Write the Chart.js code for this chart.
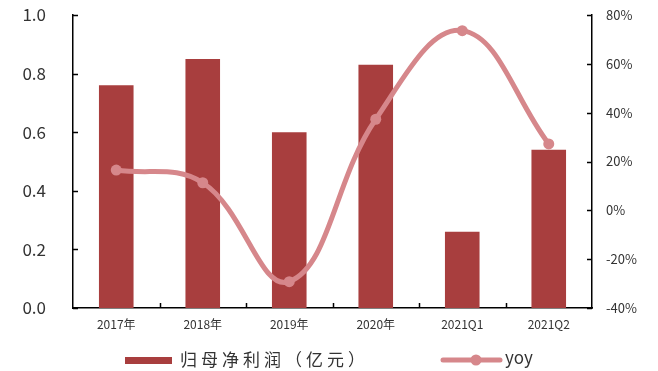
<!DOCTYPE html>
<html>
<head>
<meta charset="utf-8">
<script src="https://cdn.jsdelivr.net/npm/chart.js@4/dist/chart.umd.min.js"></script>
<style>
  html, body { margin: 0; padding: 0; background: #fff; }
  #wrap { width: 658px; height: 371px; position: relative; }
</style>
</head>
<body>
<div id="wrap"><canvas id="c"></canvas></div>
<script>
// Categories and series
const categories = ['2017年', '2018年', '2019年', '2020年', '2021Q1', '2021Q2'];
const netProfit = [0.76, 0.85, 0.60, 0.83, 0.26, 0.54];   // 归母净利润（亿元）
const yoyPct = [16.5, 11.3, -29.2, 37.3, 73.6, 27.2];      // yoy, %

const BAR_COLOR = '#a83e3e';
const LINE_COLOR = '#d6878b';
const FONT = "'Noto Sans CJK SC', 'Noto Sans', sans-serif";

// Short inward tick marks on all three axes
const innerTicks = {
  id: 'innerTicks',
  afterDatasetsDraw(chart) {
    const ctx = chart.ctx;
    const a = chart.chartArea;
    const yl = chart.scales.y, yr = chart.scales.y1, x = chart.scales.x;
    ctx.save();
    ctx.strokeStyle = '#000';
    ctx.lineWidth = 1.5;
    ctx.beginPath();
    yl.ticks.forEach(t => {
      const p = Math.round(yl.getPixelForValue(t.value)) + 0.5;
      ctx.moveTo(a.left, p); ctx.lineTo(a.left + 5, p);
    });
    yr.ticks.forEach(t => {
      const p = Math.round(yr.getPixelForValue(t.value)) + 0.5;
      ctx.moveTo(a.right - 5, p); ctx.lineTo(a.right, p);
    });
    for (let i = 0; i < categories.length - 1; i++) {
      const p = Math.round((x.getPixelForValue(i) + x.getPixelForValue(i + 1)) / 2) + 0.5;
      ctx.moveTo(p, a.bottom); ctx.lineTo(p, a.bottom - 5);
    }
    ctx.stroke();
    ctx.restore();
  }
};

// Legend drawn under the x axis
const bottomLegend = {
  id: 'bottomLegend',
  afterDraw(chart) {
    const ctx = chart.ctx;
    ctx.save();
    const ds = chart.data.datasets;
    // bar entry
    ctx.fillStyle = BAR_COLOR;
    ctx.fillRect(125, 357, 47, 7);
    ctx.fillStyle = '#333';
    ctx.font = '17px ' + FONT;
    ctx.textBaseline = 'middle';
    ctx.letterSpacing = '4px';
    ctx.fillText(ds[1].label, 180, 360);
    ctx.letterSpacing = '0px';
    // line entry
    ctx.strokeStyle = LINE_COLOR;
    ctx.lineWidth = 5;
    ctx.lineCap = 'round';
    ctx.beginPath();
    ctx.moveTo(443, 360); ctx.lineTo(500, 360);
    ctx.stroke();
    ctx.fillStyle = LINE_COLOR;
    ctx.beginPath();
    ctx.arc(476, 360, 5.5, 0, Math.PI * 2);
    ctx.fill();
    ctx.fillStyle = '#333';
    ctx.font = '17px ' + FONT;
    ctx.fillText(ds[0].label, 505, 358);
    ctx.restore();
  }
};

new Chart(document.getElementById('c'), {
  type: 'bar',
  data: {
    labels: categories,
    datasets: [
      {
        type: 'line',
        label: 'yoy',
        data: yoyPct,
        yAxisID: 'y1',
        borderColor: LINE_COLOR,
        backgroundColor: LINE_COLOR,
        borderWidth: 5,
        pointRadius: 5.5,
        pointBackgroundColor: LINE_COLOR,
        pointBorderWidth: 0,
        tension: 0.4,
        order: 0
      },
      {
        type: 'bar',
        label: '归母净利润（亿元）',
        data: netProfit,
        yAxisID: 'y',
        backgroundColor: BAR_COLOR,
        barPercentage: 0.4,
        categoryPercentage: 1.0,
        order: 1
      }
    ]
  },
  options: {
    responsive: true,
    maintainAspectRatio: false,
    animation: false,
    layout: { padding: { top: 15, left: 0, right: 0, bottom: 0 } },
    plugins: {
      legend: { display: false },
      tooltip: { enabled: false }
    },
    scales: {
      x: {
        grid: { display: false, drawTicks: false },
        border: { display: true, color: '#000', width: 1.5 },
        ticks: { color: '#333', font: { family: FONT, size: 12 }, padding: 9, maxRotation: 0 },
        afterFit(s) { s.height = 63; s.paddingLeft = 0; s.paddingRight = 0; }
      },
      y: {
        position: 'left',
        min: 0, max: 1,
        grid: { display: false, drawTicks: false },
        border: { display: true, color: '#000', width: 1.5 },
        ticks: {
          stepSize: 0.2,
          color: '#333',
          font: { family: FONT, size: 17 },
          padding: 27,
          callback: v => v.toFixed(1)
        },
        afterFit(s) { s.width = 73; s.paddingTop = 0; s.paddingBottom = 0; }
      },
      y1: {
        position: 'right',
        min: -40, max: 80,
        grid: { display: false, drawTicks: false },
        border: { display: true, color: '#000', width: 1.5 },
        ticks: {
          stepSize: 20,
          color: '#333',
          font: { family: FONT, size: 13 },
          padding: 14,
          callback: v => v + '%'
        },
        afterFit(s) { s.width = 66; s.paddingTop = 0; s.paddingBottom = 0; }
      }
    }
  },
  plugins: [innerTicks, bottomLegend]
});
</script>
</body>
</html>
